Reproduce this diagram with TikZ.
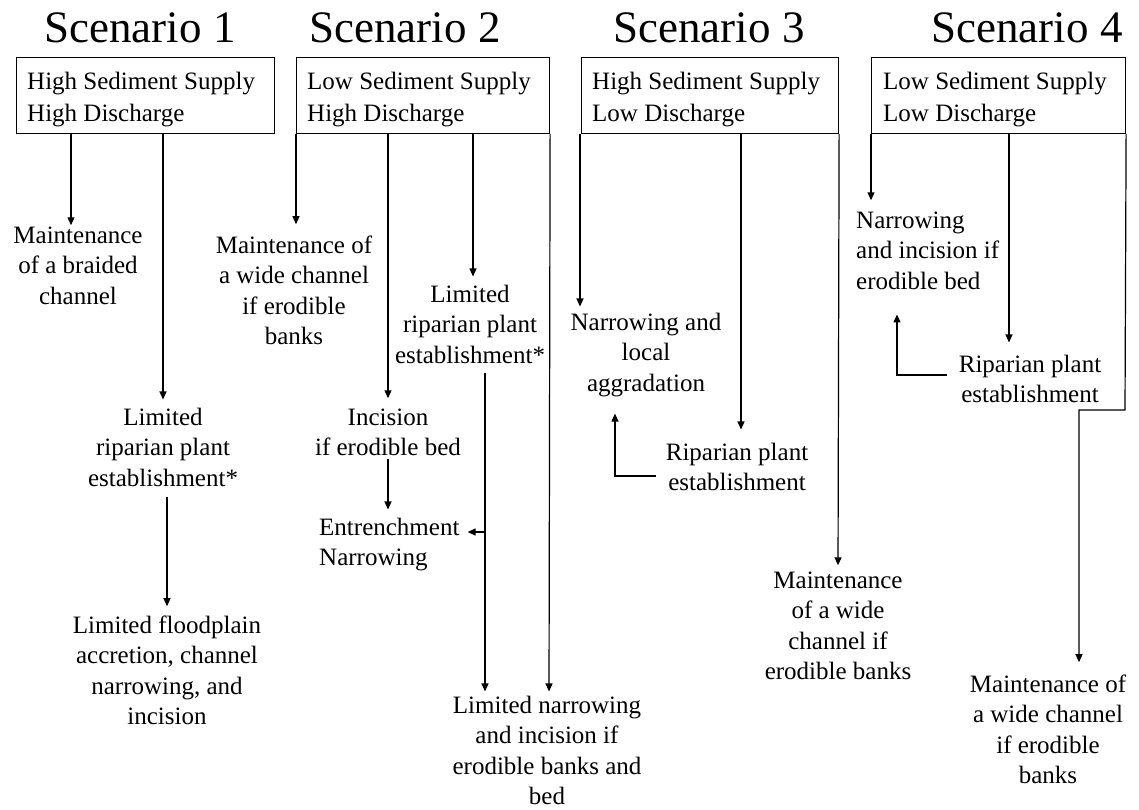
\documentclass[tikz,border=0pt]{standalone}
\usepackage{fontspec}
\setmainfont{Liberation Serif}
\usetikzlibrary{arrows.meta}
\begin{document}
\begin{tikzpicture}[x=1pt,y=-1pt,
  title/.style={font=\fontsize{45}{50}\selectfont, inner sep=0pt, anchor=base},
  txt/.style={font=\fontsize{25}{30.5}\selectfont, inner sep=0pt, align=center, anchor=base},
  ltxt/.style={font=\fontsize{25}{30.5}\selectfont, inner sep=0pt, align=left, anchor=base west},
  boxtxt/.style={font=\fontsize{25}{32.5}\selectfont, inner sep=0pt, align=left, anchor=base west},
  frame/.style={draw=black, line width=1.1pt, rectangle, anchor=north west, inner sep=0pt, minimum height=76pt},
  conn/.style={draw=black, line width=1.2pt},
  arr/.style={conn, -{Triangle[length=8pt,width=7pt]}}]
\useasboundingbox (0,0) rectangle (1139,809);

% titles
\node[title] (t1) at (140,42) {Scenario 1};
\node[title] (t2) at (405,42) {Scenario 2};
\node[title] (t3) at (709,42) {Scenario 3};
\node[title] (t4) at (1027,42) {Scenario 4};

% boxes
\node[frame, minimum width=258pt] (b1) at (16,57) {};
\node[frame, minimum width=253pt] (b2) at (296,57) {};
\node[frame, minimum width=257pt] (b3) at (581,57) {};
\node[frame, minimum width=254pt] (b4) at (871,57) {};
\node[boxtxt] (b1t) at (27,121.5) {High Sediment Supply\\High Discharge};
\node[boxtxt] (b2t) at (307,121.5) {Low Sediment Supply\\High Discharge};
\node[boxtxt] (b3t) at (592,121.5) {High Sediment Supply\\Low Discharge};
\node[boxtxt] (b4t) at (883,121.5) {Low Sediment Supply\\Low Discharge};

% column coordinates
\coordinate (x1a) at (71,0);
\coordinate (x1b) at (163,0);
\coordinate (x1c) at (167,0);
\coordinate (x2a) at (296,0);
\coordinate (x2b) at (388,0);
\coordinate (x2c) at (473,0);
\coordinate (x2d) at (485,0);
\coordinate (x2e) at (549,0);
\coordinate (x3a) at (580,0);
\coordinate (x3b) at (741,0);
\coordinate (x3c) at (838,0);
\coordinate (x4a) at (871,0);
\coordinate (x4b) at (1009,0);
\coordinate (x4c) at (1125,0);

% scenario 1 (anchors at last baseline)
\node[txt] (s1a) at (78,304) {Maintenance\\of a braided\\channel};
\node[txt] (s1b) at (163,486) {Limited\\riparian plant\\establishment*};
\node[txt] (s1c) at (167,724.5) {Limited floodplain\\accretion, channel\\narrowing, and\\incision};

% scenario 2
\node[txt] (s2a) at (294,344.5) {Maintenance of\\a wide channel\\if erodible\\banks};
\node[txt] (s2b) at (470,363) {Limited\\riparian plant\\establishment*};
\node[txt] (s2c) at (388,455.5) {Incision\\if erodible bed};
\node[ltxt] (s2d) at (319,565.5) {Entrenchment\\Narrowing};
\node[txt] (s2e) at (547,804.5) {Limited narrowing\\and incision if\\erodible banks and\\bed};

% scenario 3
\node[txt] (s3a) at (646,391) {Narrowing and\\local\\aggradation};
\node[txt] (s3b) at (737,490.5) {Riparian plant\\establishment};
\node[txt] (s3c) at (838,679.5) {Maintenance\\of a wide\\channel if\\erodible banks};

% scenario 4
\node[ltxt] (s4a) at (856,289) {Narrowing\\and incision if\\erodible bed};
\node[txt] (s4b) at (1030,402.5) {Riparian plant\\establishment};
\node[txt] (s4c) at (1048,783.5) {Maintenance of\\a wide channel\\if erodible\\banks};

% connectors scenario 1
\draw[arr, shorten >=1pt] (b1.south -| x1a) -- (s1a.north -| x1a);
\draw[arr, shorten >=8pt] (b1.south -| x1b) -- (s1b.north -| x1b);
\draw[arr, shorten <=11pt, shorten >=9pt] (s1b.south -| x1c) -- (s1c.north -| x1c);

% connectors scenario 2
\draw[arr, shorten >=11pt] (b2.south -| x2a) -- (s2a.north -| x2a);
\draw[arr, shorten >=10pt] (b2.south -| x2b) -- (s2c.north -| x2b);
\draw[arr, shorten <=3pt, shorten >=8pt] (s2c.south -| x2b) -- (s2d.north -| x2b);
\draw[arr, shorten >=8pt] (b2.south -| x2c) -- (s2b.north -| x2c);
\draw[arr, shorten <=10pt, shorten >=4pt] (s2b.south -| x2d) -- (s2e.north -| x2d);
\coordinate (j2) at (485,532);
\draw[arr, shorten >=8pt] (j2) -- (s2d.east |- j2);
\draw[arr, shorten >=4pt] (b2.south east) -- (s2e.north -| x2e);

% connectors scenario 3
\draw[arr, shorten >=6pt] (b3.south -| x3a) -- (s3a.north -| x3a);
\draw[arr, shorten >=13pt] (b3.south -| x3b) -- (s3b.north -| x3b);
\coordinate (f3) at (615,476);
\draw[arr, shorten <=10pt, shorten >=17pt] (s3b.west |- f3) -- (f3) -- (s3a.south -| f3);
\draw[arr, shorten >=6pt] (b3.south east) -- (s3c.north -| x3c);

% connectors scenario 4
\draw[arr, shorten >=11pt] (b4.south -| x4a) -- (s4a.north -| x4a);
\draw[arr, shorten >=12pt] (b4.south -| x4b) -- (s4b.north -| x4b);
\coordinate (f4) at (897,375);
\draw[arr, shorten <=12pt, shorten >=25pt] (s4b.west |- f4) -- (f4) -- (s4a.south -| f4);
\coordinate (k4) at (1125,410);
\coordinate (k4b) at (1079,410);
\draw[arr, shorten >=12pt] (b4.south east) -- (k4) -- (k4b) -- (s4c.north -| k4b);
\end{tikzpicture}
\end{document}
